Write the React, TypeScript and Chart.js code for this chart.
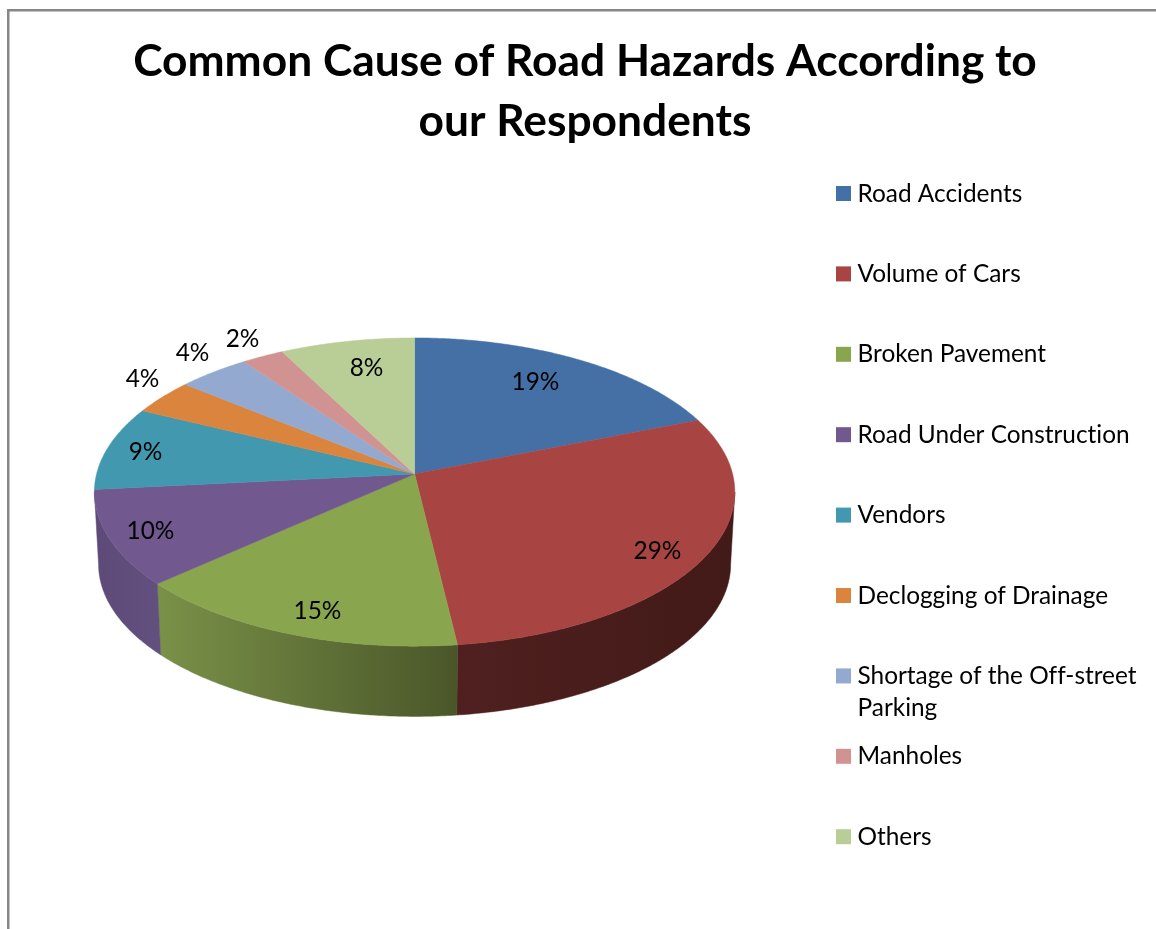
import React, { useEffect, useRef } from "react";
import { Chart, registerables } from "chart.js";

Chart.register(...registerables);

const titleLines = ["Common Cause of Road Hazards According to", "our Respondents"];
const categories = [
  "Road Accidents",
  "Volume of Cars",
  "Broken Pavement",
  "Road Under Construction",
  "Vendors",
  "Declogging of Drainage",
  "Shortage of the Off-street Parking",
  "Manholes",
  "Others",
];
const shares = [19, 29.1, 15.3, 10, 8.8, 3.7, 4.1, 2.4, 7.6];
const sliceColors = ["#4470a6", "#a84442", "#89a54e", "#71588f", "#4198af", "#db843d", "#93a9cf", "#d19392", "#b9cd96"];

// Side-wall shading, left to right, for the slices on the near side of the disc.
const wallShades: Record<number, [string, string]> = {
  1: ["#4f201f", "#421a17"],
  2: ["#7a9148", "#4a5629"],
  3: ["#5e4a79", "#62507e"],
};

// Layout of the perspective disc.
const DISC = { cx: 414.6, cy: 474, rx: 318, ry: 152, persp: 0.117, depth: 72.5, lowerScale: 0.987 };
const LABEL_CENTERS = [
  [535.5, 382.5], [657.5, 551.5], [317.5, 611.5], [150.5, 531.5], [145.5, 452.5], [142.5, 379.5], [192.5, 353.5], [242.5, 339.5], [366.5, 368.5],
];
const LEGEND = { boxX: 836, textX: 857.5, box: 15, firstY: 193, step: 80.4, lineGap: 31.5, maxChars: 27, baseline: 8.6 };
const FONT = "Lato";

function project(theta: number, lower = false) {
  const u = Math.cos(theta);
  const v = Math.sin(theta);
  const w = 1 - DISC.persp * v;
  const s = lower ? DISC.lowerScale : 1;
  return {
    x: DISC.cx + (s * DISC.rx * u) / w,
    y: DISC.cy + (lower ? DISC.depth : 0) + (s * DISC.ry * v) / w,
  };
}

function wrap(text: string, maxChars: number) {
  const lines: string[] = [];
  let cur = "";
  for (const word of text.split(" ")) {
    if (cur && (cur + " " + word).length > maxChars) {
      lines.push(cur);
      cur = word;
    } else {
      cur = cur ? cur + " " + word : word;
    }
  }
  lines.push(cur);
  return lines;
}

const disc3d = {
  id: "disc3d",
  beforeDatasetsDraw(chart: any) {
    const ctx = chart.ctx;
    const arcs = chart.getDatasetMeta(0).data;
    const step = Math.PI / 360;
    const minA = Math.asin(DISC.persp);
    const maxA = Math.PI - minA;
    ctx.save();
    // side walls
    arcs.forEach((arc: any, i: number) => {
      const a = Math.max(arc.startAngle, minA);
      const b = Math.min(arc.endAngle, maxA);
      if (b <= a) return;
      const upper: any[] = [];
      const lower: any[] = [];
      for (let t = a; t < b; t += step) {
        upper.push(project(t));
        lower.push(project(t, true));
      }
      upper.push(project(b));
      lower.push(project(b, true));
      const pts = upper.concat(lower.reverse());
      const xs = pts.map((p) => p.x);
      const shade = wallShades[i] ?? [sliceColors[i], sliceColors[i]];
      const g = ctx.createLinearGradient(Math.min(...xs), 0, Math.max(...xs), 0);
      g.addColorStop(0, shade[0]);
      g.addColorStop(1, shade[1]);
      ctx.beginPath();
      pts.forEach((p, k) => (k ? ctx.lineTo(p.x, p.y) : ctx.moveTo(p.x, p.y)));
      ctx.closePath();
      ctx.fillStyle = g;
      ctx.strokeStyle = g;
      ctx.lineWidth = 0.5;
      ctx.fill();
      ctx.stroke();
    });
    // top face
    arcs.forEach((arc: any, i: number) => {
      ctx.beginPath();
      ctx.moveTo(DISC.cx, DISC.cy);
      for (let t = arc.startAngle; t < arc.endAngle; t += step) {
        const p = project(t);
        ctx.lineTo(p.x, p.y);
      }
      const e = project(arc.endAngle);
      ctx.lineTo(e.x, e.y);
      ctx.closePath();
      ctx.fillStyle = sliceColors[i];
      ctx.strokeStyle = sliceColors[i];
      ctx.lineWidth = 0.5;
      ctx.fill();
      ctx.stroke();
    });
    ctx.restore();
    return false;
  },
  afterDraw(chart: any) {
    const ctx = chart.ctx;
    const values: number[] = chart.data.datasets[0].data;
    const labels: string[] = chart.data.labels;
    const total = values.reduce((a, b) => a + b, 0);
    ctx.save();
    // frame
    ctx.fillStyle = "#868686";
    ctx.fillRect(7, 9, 1163, 2.5);
    ctx.fillRect(7, 9, 2.5, 920);
    // percentage labels
    ctx.fillStyle = "#000";
    ctx.textAlign = "center";
    ctx.textBaseline = "middle";
    ctx.font = `24.4px ${FONT}`;
    ctx.letterSpacing = "0.001px";
    values.forEach((v, i) => {
      ctx.fillText(`${Math.round((v / total) * 100)}%`, LABEL_CENTERS[i][0], LABEL_CENTERS[i][1]);
    });
    // legend
    ctx.textAlign = "left";
    ctx.textBaseline = "alphabetic";
    labels.forEach((label, i) => {
      const y = LEGEND.firstY + i * LEGEND.step;
      ctx.fillStyle = sliceColors[i];
      ctx.fillRect(LEGEND.boxX, y - LEGEND.box / 2 + 0.5, LEGEND.box, LEGEND.box);
      ctx.fillStyle = "#000";
      wrap(label, LEGEND.maxChars).forEach((line, k) => {
        ctx.fillText(line, LEGEND.textX, y + LEGEND.baseline + k * LEGEND.lineGap);
      });
    });
    ctx.restore();
  },
};

export default function App() {
  const ref = useRef<HTMLCanvasElement>(null);
  useEffect(() => {
    const chart = new Chart(ref.current as HTMLCanvasElement, {
      type: "pie",
      data: {
        labels: categories,
        datasets: [{ data: shares, backgroundColor: sliceColors, borderWidth: 0 }],
      },
      options: {
        responsive: false,
        animation: false,
        events: [],
        plugins: {
          legend: { display: false },
          tooltip: { enabled: false },
          title: {
            display: true,
            text: titleLines,
            color: "#000",
            font: { family: FONT, size: 44.3, weight: "bold", lineHeight: 1.355 },
            padding: { top: 32, bottom: 10 },
          },
        },
      },
      plugins: [disc3d],
    } as any);
    return () => chart.destroy();
  }, []);
  return (
    <div style={{ position: "absolute", left: 0, top: 0, width: 1156, height: 929, overflow: "hidden", background: "#fff" }}>
      <canvas ref={ref} width={1170} height={929} style={{ display: "block" }} />
    </div>
  );
}
